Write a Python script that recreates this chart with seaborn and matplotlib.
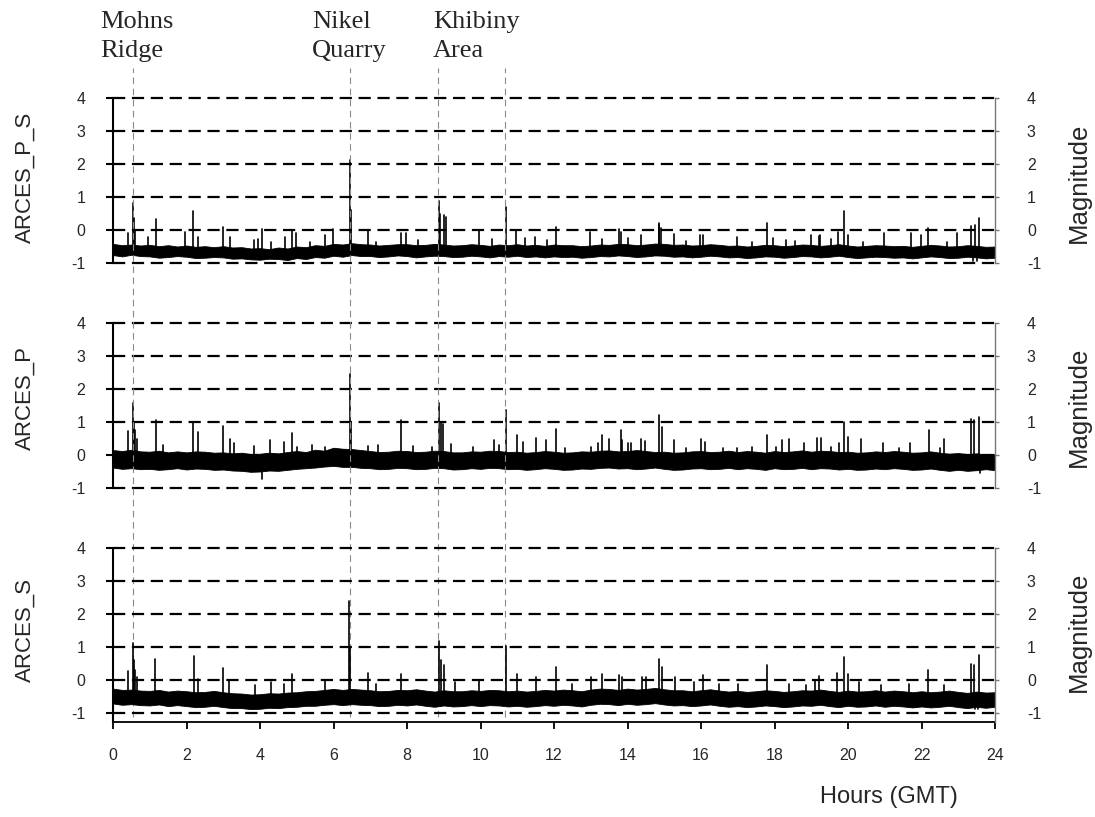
import numpy as np
import pandas as pd
import matplotlib
matplotlib.use("Agg")
import matplotlib.pyplot as plt
import seaborn as sns

sns.set_style("white")
plt.rcParams['font.family'] = ['Liberation Sans', 'DejaVu Sans']
plt.rcParams['axes.unicode_minus'] = False

# band sample times (hours) and the low / high edges of the noisy trace
hours = np.arange(0, 24.25, 0.25)

hi_ps = [-0.42, -0.46, -0.44, -0.47, -0.45, -0.49, -0.46, -0.50, -0.47, -0.51, -0.49, -0.52,
         -0.49, -0.53, -0.52, -0.56, -0.55, -0.58, -0.53, -0.56, -0.50, -0.52, -0.46, -0.48,
         -0.42, -0.44, -0.40, -0.43, -0.44, -0.47, -0.45, -0.43, -0.43, -0.46, -0.45, -0.42,
         -0.44, -0.47, -0.46, -0.43, -0.45, -0.48, -0.44, -0.46, -0.43, -0.47, -0.45, -0.48,
         -0.44, -0.46, -0.46, -0.49, -0.47, -0.44, -0.45, -0.42, -0.43, -0.46, -0.44, -0.41,
         -0.42, -0.45, -0.44, -0.47, -0.46, -0.43, -0.45, -0.48, -0.47, -0.50, -0.48, -0.45,
         -0.46, -0.49, -0.47, -0.44, -0.45, -0.48, -0.46, -0.43, -0.47, -0.50, -0.48, -0.46,
         -0.47, -0.49, -0.48, -0.51, -0.48, -0.45, -0.47, -0.50, -0.49, -0.46, -0.48, -0.51,
         -0.50]
lo_ps = [-0.76, -0.80, -0.75, -0.79, -0.80, -0.84, -0.82, -0.79, -0.81, -0.85, -0.84, -0.82,
         -0.83, -0.87, -0.86, -0.89, -0.90, -0.87, -0.88, -0.91, -0.85, -0.88, -0.82, -0.84,
         -0.78, -0.81, -0.76, -0.79, -0.79, -0.82, -0.80, -0.77, -0.79, -0.83, -0.80, -0.78,
         -0.79, -0.82, -0.81, -0.78, -0.80, -0.83, -0.79, -0.81, -0.78, -0.82, -0.80, -0.83,
         -0.80, -0.82, -0.81, -0.84, -0.82, -0.79, -0.80, -0.77, -0.79, -0.82, -0.80, -0.77,
         -0.78, -0.81, -0.80, -0.83, -0.81, -0.78, -0.80, -0.83, -0.82, -0.85, -0.83, -0.80,
         -0.81, -0.84, -0.82, -0.79, -0.80, -0.83, -0.81, -0.78, -0.82, -0.85, -0.83, -0.81,
         -0.82, -0.84, -0.83, -0.86, -0.83, -0.80, -0.82, -0.85, -0.84, -0.81, -0.83, -0.86,
         -0.84]

hi_p = [0.15, 0.12, 0.16, 0.11, 0.10, 0.13, 0.08, 0.11, 0.08, 0.11, 0.10, 0.07,
        0.08, 0.05, 0.07, 0.03, 0.04, 0.07, 0.05, 0.09, 0.12, 0.09, 0.16, 0.13,
        0.22, 0.19, 0.18, 0.15, 0.12, 0.09, 0.10, 0.13, 0.12, 0.09, 0.10, 0.13,
        0.12, 0.08, 0.08, 0.11, 0.10, 0.13, 0.12, 0.09, 0.10, 0.07, 0.09, 0.12,
        0.10, 0.07, 0.08, 0.11, 0.10, 0.13, 0.14, 0.11, 0.12, 0.15, 0.12, 0.09,
        0.10, 0.07, 0.08, 0.11, 0.12, 0.09, 0.10, 0.13, 0.09, 0.12, 0.10, 0.07,
        0.12, 0.09, 0.11, 0.14, 0.10, 0.13, 0.12, 0.09, 0.10, 0.07, 0.08, 0.11,
        0.09, 0.12, 0.10, 0.07, 0.08, 0.11, 0.07, 0.04, 0.06, 0.03, 0.05, 0.02,
        0.02]
lo_p = [-0.38, -0.42, -0.40, -0.43, -0.42, -0.45, -0.43, -0.40, -0.44, -0.41, -0.42, -0.45,
        -0.44, -0.47, -0.48, -0.51, -0.50, -0.47, -0.48, -0.45, -0.42, -0.40, -0.38, -0.35,
        -0.33, -0.36, -0.36, -0.39, -0.40, -0.43, -0.42, -0.39, -0.40, -0.43, -0.42, -0.39,
        -0.40, -0.44, -0.43, -0.40, -0.42, -0.39, -0.40, -0.43, -0.42, -0.45, -0.43, -0.40,
        -0.42, -0.45, -0.44, -0.41, -0.42, -0.39, -0.38, -0.41, -0.40, -0.43, -0.41, -0.38,
        -0.42, -0.45, -0.44, -0.41, -0.40, -0.43, -0.42, -0.39, -0.43, -0.40, -0.42, -0.45,
        -0.40, -0.43, -0.42, -0.39, -0.43, -0.40, -0.41, -0.44, -0.42, -0.45, -0.44, -0.41,
        -0.43, -0.40, -0.42, -0.45, -0.44, -0.41, -0.45, -0.48, -0.45, -0.48, -0.46, -0.43,
        -0.46]

hi_s = [-0.25, -0.29, -0.28, -0.31, -0.32, -0.29, -0.34, -0.31, -0.33, -0.36, -0.35, -0.32,
        -0.36, -0.39, -0.40, -0.43, -0.42, -0.39, -0.40, -0.37, -0.36, -0.33, -0.32, -0.29,
        -0.26, -0.29, -0.26, -0.28, -0.30, -0.33, -0.32, -0.29, -0.30, -0.27, -0.31, -0.34,
        -0.30, -0.33, -0.33, -0.30, -0.32, -0.29, -0.30, -0.33, -0.31, -0.34, -0.32, -0.29,
        -0.31, -0.28, -0.30, -0.33, -0.28, -0.25, -0.26, -0.29, -0.25, -0.28, -0.26, -0.23,
        -0.27, -0.30, -0.30, -0.33, -0.30, -0.27, -0.31, -0.34, -0.32, -0.35, -0.33, -0.30,
        -0.32, -0.35, -0.33, -0.30, -0.31, -0.28, -0.32, -0.35, -0.31, -0.34, -0.33, -0.30,
        -0.34, -0.31, -0.33, -0.36, -0.33, -0.36, -0.34, -0.31, -0.35, -0.38, -0.34, -0.37,
        -0.36]
lo_s = [-0.70, -0.74, -0.72, -0.75, -0.76, -0.73, -0.78, -0.75, -0.78, -0.81, -0.80, -0.77,
        -0.81, -0.84, -0.84, -0.87, -0.86, -0.83, -0.84, -0.81, -0.80, -0.77, -0.77, -0.74,
        -0.72, -0.75, -0.72, -0.74, -0.75, -0.78, -0.77, -0.74, -0.76, -0.73, -0.77, -0.80,
        -0.76, -0.79, -0.78, -0.75, -0.78, -0.75, -0.76, -0.79, -0.77, -0.80, -0.78, -0.75,
        -0.77, -0.74, -0.76, -0.79, -0.74, -0.71, -0.72, -0.75, -0.71, -0.74, -0.72, -0.69,
        -0.73, -0.76, -0.75, -0.78, -0.76, -0.73, -0.77, -0.80, -0.78, -0.81, -0.79, -0.76,
        -0.78, -0.81, -0.79, -0.76, -0.77, -0.74, -0.78, -0.81, -0.77, -0.80, -0.79, -0.76,
        -0.80, -0.77, -0.79, -0.82, -0.79, -0.82, -0.80, -0.77, -0.81, -0.84, -0.80, -0.83,
        -0.80]

# spikes: (hour, magnitude)
spikes_ps = [(0.40, -0.10), (0.54, 0.82), (0.57, 0.35), (0.60, 0.00), (0.95, -0.20),
             (1.16, 0.33), (1.96, -0.05), (2.19, 0.58), (2.30, -0.20), (2.98, 0.10),
             (3.18, -0.20), (3.84, -0.30), (3.94, -0.28), (4.05, 0.03), (4.30, -0.35),
             (4.68, -0.20), (4.86, -0.02), (4.97, -0.10), (5.36, -0.35), (5.77, -0.15),
             (5.98, 0.04), (6.45, 2.12), (6.48, 0.60), (6.95, -0.02), (7.15, -0.35),
             (7.84, -0.10), (7.97, -0.10), (8.31, -0.30), (8.87, 0.88), (8.90, 0.50),
             (9.00, 0.45), (9.05, 0.40), (9.97, 0.00), (10.30, -0.28), (10.69, 0.70),
             (10.97, 0.00), (11.20, -0.25), (11.48, -0.20), (11.80, -0.30), (12.05, 0.08),
             (12.98, -0.05), (13.30, -0.28), (13.78, 0.03), (13.82, -0.05), (14.00, -0.25),
             (14.38, -0.15), (14.85, 0.15), (14.87, 0.20), (14.92, 0.05), (15.27, -0.12),
             (15.60, -0.32), (15.97, -0.15), (16.05, -0.15), (16.97, -0.20), (17.40, -0.35),
             (17.79, 0.21), (17.97, -0.25), (18.30, -0.30), (18.56, -0.32), (18.98, -0.15),
             (19.20, -0.18), (19.25, -0.15), (19.55, -0.28), (19.74, -0.05), (19.90, 0.58),
             (20.00, -0.15), (20.40, -0.35), (20.99, -0.10), (21.71, -0.10), (21.99, -0.15),
             (22.19, 0.05), (22.70, -0.35), (22.97, -0.10), (23.35, 0.12), (23.45, 0.15),
             (23.57, 0.35), (23.40, -0.95), (23.52, -0.95)]

spikes_p = [(0.40, 0.73), (0.54, 1.57), (0.57, 1.00), (0.60, 0.75), (0.64, 0.50),
            (1.16, 1.07), (1.35, 0.30), (2.19, 1.00), (2.30, 0.70), (2.98, 0.88),
            (3.18, 0.50), (3.30, 0.35), (3.84, 0.28), (4.06, -0.73), (4.28, 0.45),
            (4.66, 0.40), (4.86, 0.68), (5.00, 0.25), (5.42, 0.30), (5.77, 0.25),
            (6.45, 2.45), (6.48, 1.00), (6.95, 0.27), (7.20, 0.30), (7.85, 1.05),
            (8.17, 0.27), (8.67, 0.25), (8.87, 1.57), (8.93, 1.00), (8.98, 0.95),
            (9.20, 0.32), (9.80, 0.25), (10.37, 0.45), (10.50, 0.30), (10.69, 1.36),
            (11.00, 0.62), (11.15, 0.40), (11.51, 0.53), (11.77, 0.45), (12.05, 0.80),
            (12.30, 0.22), (13.00, 0.25), (13.20, 0.37), (13.31, 0.62), (13.50, 0.47),
            (13.81, 0.75), (13.85, 0.45), (14.00, 0.35), (14.10, 0.37), (14.38, 0.50),
            (14.47, 0.42), (14.87, 1.20), (14.93, 0.85), (15.27, 0.45), (15.60, 0.20),
            (16.00, 0.47), (16.10, 0.40), (16.60, 0.22), (16.97, 0.20), (17.40, 0.25),
            (17.80, 0.62), (18.05, 0.25), (18.20, 0.45), (18.40, 0.47), (18.80, 0.35),
            (19.15, 0.52), (19.26, 0.52), (19.55, 0.25), (19.75, 0.35), (19.90, 1.00),
            (20.00, 0.55), (20.35, 0.47), (20.95, 0.35), (21.40, 0.22), (21.70, 0.35),
            (22.20, 0.75), (22.50, 0.22), (22.60, 0.50), (23.35, 1.08), (23.43, 1.05),
            (23.57, 1.15), (23.60, -0.55)]

spikes_s = [(0.40, 0.28), (0.54, 1.12), (0.57, 0.60), (0.60, 0.30), (0.64, 0.10),
            (1.15, 0.63), (2.20, 0.75), (2.30, 0.05), (2.98, 0.38), (3.17, 0.00),
            (3.86, -0.15), (4.29, -0.05), (4.65, -0.12), (4.87, 0.20), (5.77, 0.00),
            (6.43, 2.40), (6.46, 1.00), (6.93, 0.23), (7.15, -0.12), (7.85, 0.20),
            (8.87, 1.18), (8.92, 0.60), (9.00, 0.45), (9.30, -0.05), (9.97, 0.00),
            (10.69, 1.05), (11.00, 0.20), (11.50, 0.10), (12.05, 0.40), (12.50, -0.10),
            (13.00, 0.10), (13.30, 0.20), (13.78, 0.15), (13.85, 0.10), (14.40, 0.10),
            (14.50, 0.10), (14.87, 0.65), (14.93, 0.40), (15.30, 0.10), (15.80, -0.05),
            (16.06, 0.17), (16.50, -0.10), (17.00, -0.10), (17.80, 0.47), (18.40, -0.10),
            (18.85, -0.15), (19.10, 0.00), (19.20, 0.12), (19.70, 0.22), (19.90, 0.70),
            (20.00, 0.20), (20.30, -0.05), (20.90, -0.15), (21.65, -0.10), (22.19, 0.30),
            (22.60, -0.15), (23.34, 0.50), (23.42, 0.47), (23.57, 0.77), (23.45, -0.86),
            (23.55, -0.86)]

spike_base = [-0.60, -0.15, -0.52]
panel_names = ['ARCES_P_S', 'ARCES_P', 'ARCES_S']

event_hours = [0.55, 6.45, 8.85, 10.68]
event_names = ['Mohns\nRidge', 'Nikel\nQuarry', 'Khibiny\nArea']
event_label_px = [100, 312, 433]

W, H = 1095, 817
fig = plt.figure(figsize=(W / 100, H / 100), dpi=100)

panels = [(98, 263, -1.0), (323, 488, -1.0), (548, 722, -1.26)]
bands = [(hi_ps, lo_ps), (hi_p, lo_p), (hi_s, lo_s)]
spikes = [spikes_ps, spikes_p, spikes_s]
label_y = [177, 398, 630]
mag_y = [183, 407, 632]

axes = []
for i, (top, bot, ymin) in enumerate(panels):
    ax = fig.add_axes([113 / W, 1 - bot / H, 882 / W, (bot - top) / H])
    ax.set_facecolor('none')
    hi, lo = bands[i]
    band = pd.DataFrame({'t': np.concatenate([hours, hours]), 'v': hi + lo})
    sns.lineplot(data=band, x='t', y='v', errorbar=('pi', 100), color='black',
                 linewidth=0.6, err_kws={'alpha': 1, 'linewidth': 0.6, 'edgecolor': 'black'},
                 ax=ax)
    rows = []
    for k, (t, v) in enumerate(spikes[i]):
        rows.append((k, t, spike_base[i]))
        rows.append((k, t, v))
    sdf = pd.DataFrame(rows, columns=['id', 't', 'v'])
    sns.lineplot(data=sdf, x='t', y='v', units='id', estimator=None, color='black',
                 linewidth=1.2, ax=ax)

    ax.set_xlim(0, 24)
    ax.set_ylim(ymin, 4)
    ax.set_yticks(range(-1, 5))
    ax.set_xlabel('')
    ax.set_ylabel('')
    ax.set_axisbelow(True)
    ax.yaxis.grid(True, color='black', linewidth=1.6, linestyle=(0, (5.5, 3.0)))
    ax.xaxis.grid(False)
    # keep the edge gridlines (4 and -1) at full width
    for gl in ax.get_ygridlines():
        gl.set_clip_on(False)
    for s in ['top', 'right']:
        ax.spines[s].set_visible(False)
    ax.spines['left'].set_color('black')
    ax.spines['left'].set_linewidth(1.5)
    ax.tick_params(axis='y', left=True, direction='out', length=5, width=1.5,
                   color='black', labelsize=11.5, pad=15)
    if i < 2:
        ax.spines['bottom'].set_visible(False)
        ax.tick_params(axis='x', bottom=False, labelbottom=False)
    else:
        ax.spines['bottom'].set_color('black')
        ax.spines['bottom'].set_linewidth(1.3)
        ax.set_xticks(range(0, 25, 2))
        ax.tick_params(axis='x', bottom=True, direction='out', length=5, width=1.3,
                       color='black', labelsize=11.5, pad=14)

    axr = ax.twinx()
    axr.set_facecolor('none')
    axr.set_ylim(ymin, 4)
    axr.set_yticks(range(-1, 5))
    for s in ['top', 'left', 'bottom']:
        axr.spines[s].set_visible(False)
    axr.spines['right'].set_color('#777777')
    axr.spines['right'].set_linewidth(1.0)
    axr.tick_params(axis='y', right=True, direction='out', length=3, width=1.0,
                    color='#777777', labelsize=11.5, pad=20)

    fig.text(25 / W, 1 - label_y[i] / H, panel_names[i], rotation=90,
             ha='center', va='center', fontsize=16)
    fig.text(1079 / W, 1 - mag_y[i] / H, 'Magnitude', rotation=90,
             ha='center', va='center', fontsize=18.5)
    axes.append(ax)

# event markers spanning all three panels
ax3 = axes[2]
for h in event_hours:
    ax3.axvline(h, ymin=5 / 174, ymax=(722 - 68) / 174, clip_on=False,
                color='#8a8a8a', linewidth=0.8, linestyle=(0, (6, 4)), zorder=0)

for name, px in zip(event_names, event_label_px):
    fig.text(px / W, 1 - 11 / H, name, ha='left', va='top', fontsize=19,
             family=['Liberation Serif', 'DejaVu Serif'], linespacing=1.4)

fig.text(889 / W, 1 - 797 / H, 'Hours (GMT)', ha='center', va='center', fontsize=17)

fig.savefig('out.png', dpi=100)
